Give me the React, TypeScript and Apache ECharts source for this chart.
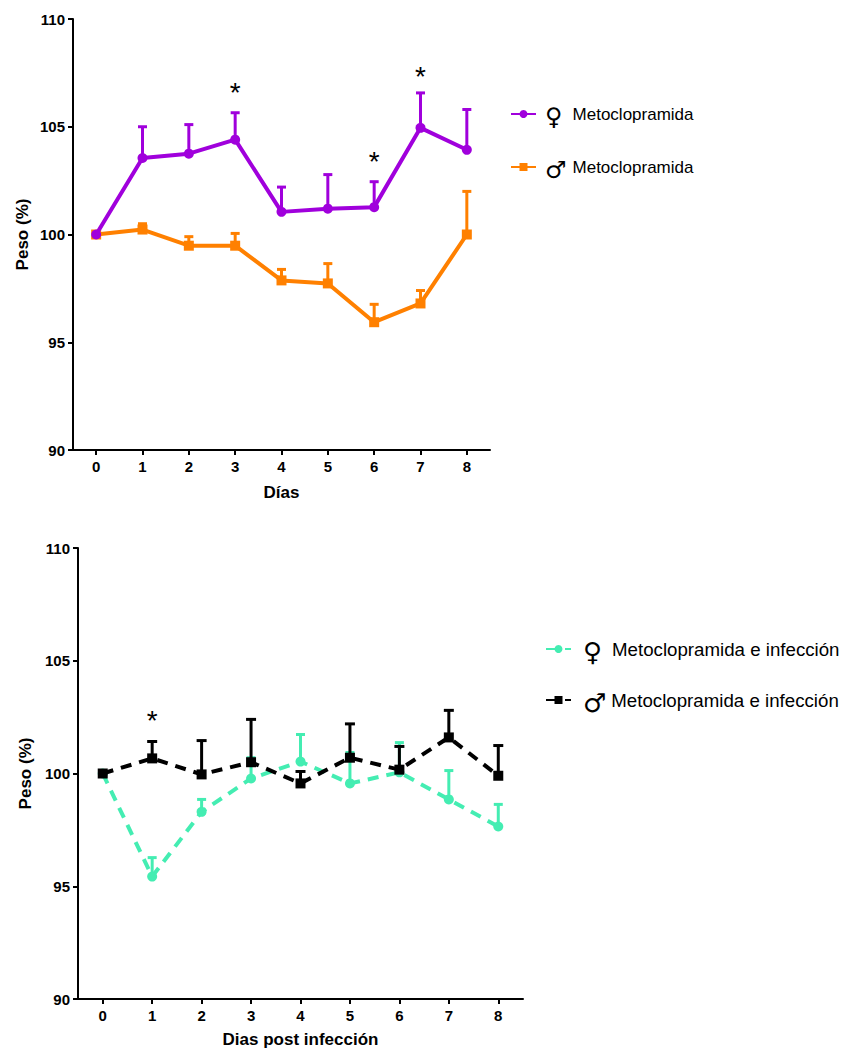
import React, { useEffect, useRef } from 'react';
import * as echarts from 'echarts';

// ---------- data ----------
const days = ['0', '1', '2', '3', '4', '5', '6', '7', '8'];

// Top chart: Metoclopramida
const femaleMean = [100, 103.55, 103.75, 104.4, 101.05, 101.2, 101.27, 104.95, 103.93];
const femaleErr = [0, 1.45, 1.35, 1.25, 1.15, 1.58, 1.18, 1.62, 1.87];
const maleMean = [100, 100.23, 99.48, 99.48, 97.87, 97.73, 95.93, 96.8, 100];
const maleErr = [0, 0.27, 0.42, 0.57, 0.51, 0.92, 0.83, 0.6, 2.0];
const topStarDays = [3, 6, 7];
const topStarY = [106.8, 103.6, 107.55];

// Bottom chart: Metoclopramida e infección
const femaleInfMean = [100, 95.43, 98.3, 99.78, 100.53, 99.56, 100.05, 98.85, 97.65];
const femaleInfErr = [0, 0.84, 0.55, 0.92, 1.2, 1.37, 1.32, 1.28, 0.98];
const maleInfMean = [100, 100.67, 99.96, 100.5, 99.56, 100.7, 100.17, 101.6, 99.9];
const maleInfErr = [0, 0.75, 1.5, 1.9, 0.53, 1.5, 1.03, 1.2, 1.34];
const bottomStarDays = [1];
const bottomStarY = [102.57];

const yTicks = { min: 90, max: 110, interval: 5 };

const names = {
  f1: '♀ Metoclopramida',
  m1: '♂ Metoclopramida',
  f2: '♀ Metoclopramida e infección',
  m2: '♂ Metoclopramida e infección',
};

const PURPLE = '#A000DC';
const ORANGE = '#FF8000';
const AQUA = '#44EDB2';
const BLACK = '#000000';
const FONT = 'Arial, Liberation Sans, Helvetica, sans-serif';
const GLYPH_FONT = 'DejaVu Sans, sans-serif';

function errSeries(mean: number[], err: number[], color: string, axis: number, lw: number, capW: number, z: number) {
  return {
    type: 'custom',
    xAxisIndex: axis,
    yAxisIndex: axis,
    silent: true,
    z,
    data: mean.map((m, i) => [i, m, m + err[i]]),
    renderItem: (params: any, api: any) => {
      const x = api.value(0);
      const lo = api.value(1);
      const hi = api.value(2);
      if (hi - lo <= 0) return null;
      const p0 = api.coord([x, lo]);
      const p1 = api.coord([x, hi]);
      return {
        type: 'group',
        children: [
          { type: 'line', shape: { x1: p0[0], y1: p0[1], x2: p1[0], y2: p1[1] }, style: { stroke: color, lineWidth: lw } },
          { type: 'line', shape: { x1: p1[0] - capW / 2, y1: p1[1], x2: p1[0] + capW / 2, y2: p1[1] }, style: { stroke: color, lineWidth: lw } },
        ],
      };
    },
  };
}

function starSeries(starDays: number[], starY: number[], axis: number) {
  return {
    type: 'custom',
    xAxisIndex: axis,
    yAxisIndex: axis,
    silent: true,
    z: 5,
    data: starDays.map((d, i) => [d, starY[i]]),
    renderItem: (params: any, api: any) => {
      const p = api.coord([api.value(0), api.value(1)]);
      return {
        type: 'text',
        x: p[0],
        y: p[1] + 5,
        style: { text: '*', fill: '#000', fontSize: 28, fontFamily: FONT, align: 'center', verticalAlign: 'middle' },
      };
    },
  };
}

function yAxis(grid: number) {
  return {
    type: 'value',
    gridIndex: grid,
    min: yTicks.min,
    max: yTicks.max,
    interval: yTicks.interval,
    name: 'Peso (%)',
    nameLocation: 'middle',
    nameGap: 42,
    nameTextStyle: { color: '#000', fontSize: 17, fontWeight: 'bold', fontFamily: FONT },
    axisLine: { show: true, lineStyle: { color: '#000', width: 2 } },
    axisTick: { show: true, length: 5, lineStyle: { color: '#000', width: 2 } },
    axisLabel: { color: '#000', fontSize: 15, fontWeight: 'bold', fontFamily: FONT, margin: 8 },
    splitLine: { show: false },
  };
}

function xAxis(grid: number, name: string, gap: number) {
  return {
    type: 'category',
    gridIndex: grid,
    data: days,
    boundaryGap: true,
    name,
    nameLocation: 'middle',
    nameGap: gap,
    nameTextStyle: { color: '#000', fontSize: 17, fontWeight: 'bold', fontFamily: FONT },
    axisLine: { show: true, lineStyle: { color: '#000', width: 2 } },
    axisTick: { show: true, alignWithLabel: true, length: 5, lineStyle: { color: '#000', width: 2 } },
    axisLabel: { color: '#000', fontSize: 15, fontWeight: 'bold', fontFamily: FONT, margin: 9 },
    splitLine: { show: false },
  };
}

function legendItem(name: string, left: number, top: number, glyphSize: number, textSize: number, padL: number, padR: number) {
  return {
    data: [name],
    left,
    top,
    padding: 0,
    itemWidth: 25,
    itemHeight: 10,
    selectedMode: false,
    formatter: (n: string) => `{g|${n[0]}}{t|${n.slice(2)}}`,
    textStyle: {
      rich: {
        g: {
          fontFamily: GLYPH_FONT, fontSize: glyphSize, color: '#000',
          padding: [6, padR, 0, padL],
        },
        t: { fontFamily: FONT, fontSize: textSize, color: '#000' },
      },
    },
  };
}

export default function App() {
  const ref = useRef<HTMLDivElement>(null);
  useEffect(() => {
    document.body.style.margin = '0';
    if (!ref.current) return;
    const chart = echarts.init(ref.current, null, { renderer: 'svg' });
    chart.setOption({
      animation: false,
      backgroundColor: '#fff',
      grid: [
        { left: 73, top: 19, width: 417, height: 431 },
        { left: 78, top: 548, width: 445, height: 451 },
      ],
      xAxis: [xAxis(0, 'Días', 34), xAxis(1, 'Dias post infección', 32)],
      yAxis: [yAxis(0), yAxis(1)],
      legend: [
        legendItem(names.f1, 510, 105, 24, 17, 4, 10),
        legendItem(names.m1, 510, 158, 24, 17, 4, 6),
        legendItem(names.f2, 545, 639, 26, 18.7, 7, 10),
        legendItem(names.m2, 545, 690, 26, 18.7, 7, 5),
      ],
      series: [
        {
          type: 'line', name: names.m1, xAxisIndex: 0, yAxisIndex: 0, data: maleMean, z: 2,
          symbol: 'rect', symbolSize: 10,
          lineStyle: { color: ORANGE, width: 4 }, itemStyle: { color: ORANGE },
        },
        errSeries(maleMean, maleErr, ORANGE, 0, 3, 9, 2),
        {
          type: 'line', name: names.f1, xAxisIndex: 0, yAxisIndex: 0, data: femaleMean, z: 3,
          symbol: 'circle', symbolSize: 10,
          lineStyle: { color: PURPLE, width: 4 }, itemStyle: { color: PURPLE },
        },
        errSeries(femaleMean, femaleErr, PURPLE, 0, 3, 9, 3),
        starSeries(topStarDays, topStarY, 0),
        {
          type: 'line', name: names.f2, xAxisIndex: 1, yAxisIndex: 1, data: femaleInfMean, z: 2,
          symbol: 'circle', symbolSize: 10,
          lineStyle: { color: AQUA, width: 4, type: [11, 8] }, itemStyle: { color: AQUA },
        },
        errSeries(femaleInfMean, femaleInfErr, AQUA, 1, 3, 9, 2),
        {
          type: 'line', name: names.m2, xAxisIndex: 1, yAxisIndex: 1, data: maleInfMean, z: 3,
          symbol: 'rect', symbolSize: 10,
          lineStyle: { color: BLACK, width: 4, type: [11, 8] }, itemStyle: { color: BLACK },
        },
        errSeries(maleInfMean, maleInfErr, BLACK, 1, 3, 10, 3),
        starSeries(bottomStarDays, bottomStarY, 1),
      ],
    });
    return () => chart.dispose();
  }, []);
  return <div ref={ref} style={{ width: 846, height: 1051, position: 'absolute', left: 0, top: 0 }} />;
}
